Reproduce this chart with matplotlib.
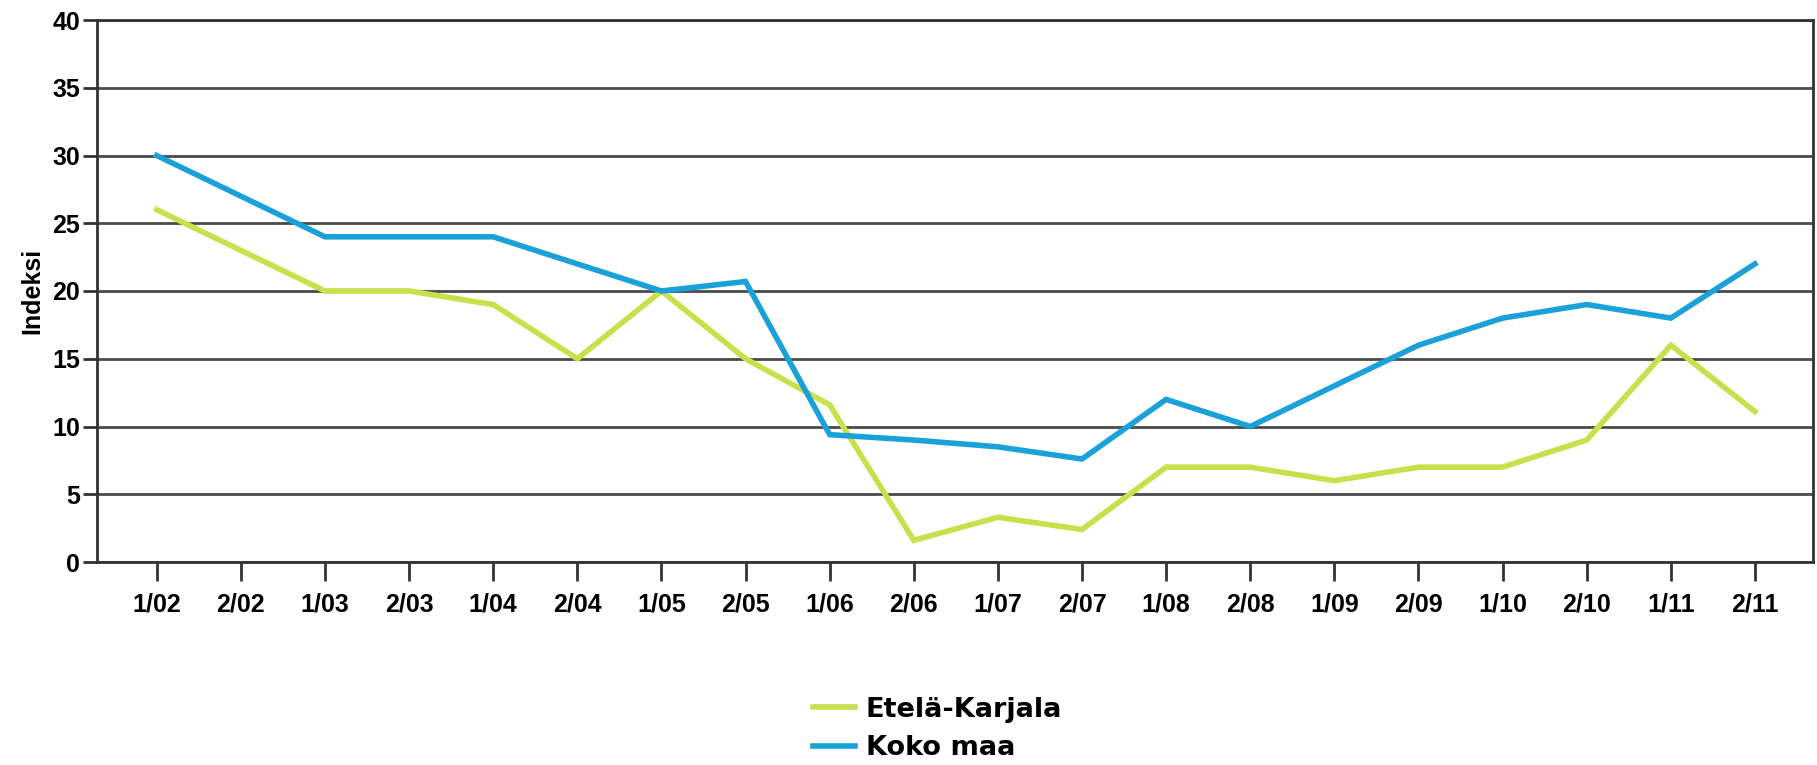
import matplotlib
matplotlib.use("Agg")
import matplotlib.pyplot as plt

# half-year periods
periods = ["1/02", "2/02", "1/03", "2/03", "1/04", "2/04", "1/05", "2/05", "1/06", "2/06",
           "1/07", "2/07", "1/08", "2/08", "1/09", "2/09", "1/10", "2/10", "1/11", "2/11"]
etela_karjala = [26, 23, 20, 20, 19, 15, 20, 15, 11.6, 1.6, 3.3, 2.4, 7, 7, 6, 7, 7, 9, 16, 11.1]
koko_maa = [30, 27, 24, 24, 24, 22, 20, 20.7, 9.4, 9.0, 8.5, 7.6, 12, 10, 13, 16, 18, 19, 18, 22]

green = "#c6e14b"
blue = "#1ba1d9"

plt.rcParams["font.family"] = ["Liberation Sans", "DejaVu Sans"]

fig = plt.figure(figsize=(18.17, 7.65), dpi=100)
ax = fig.add_axes([97 / 1817, 1 - 562 / 765, (1813 - 97) / 1817, (562 - 20) / 765])

x = list(range(len(periods)))
ax.plot(x, etela_karjala, color=green, lw=4, label="Etelä-Karjala", solid_joinstyle="miter", zorder=3)
ax.plot(x, koko_maa, color=blue, lw=4, label="Koko maa", solid_joinstyle="miter", zorder=3)

ax.set_xlim(-0.71, len(periods) - 1 + 0.69)
ax.set_ylim(0, 40)
ax.set_yticks(range(0, 41, 5))
ax.set_xticks(x)
ax.set_xticklabels(periods)

ax.yaxis.grid(True, color="#4a4a4a", lw=2)
ax.set_axisbelow(True)
for s in ax.spines.values():
    s.set_color("#333333")
    s.set_linewidth(2)

ax.tick_params(axis="x", length=14, width=2, color="#333333", pad=8)
ax.tick_params(axis="y", length=10, width=2, color="#333333", pad=2)
for lab in ax.get_xticklabels() + ax.get_yticklabels():
    lab.set_fontsize(18)
    lab.set_fontweight("bold")

ax.set_ylabel("Indeksi", fontsize=18, fontweight="bold", labelpad=6)

fig.legend(loc="center", bbox_to_anchor=(0.516, 1 - 729 / 765), frameon=False,
           prop={"family": "DejaVu Sans", "weight": "bold", "size": 19.5},
           handlelength=1.55, handletextpad=0.4, labelspacing=0.45)

fig.savefig("out.png", dpi=100)
